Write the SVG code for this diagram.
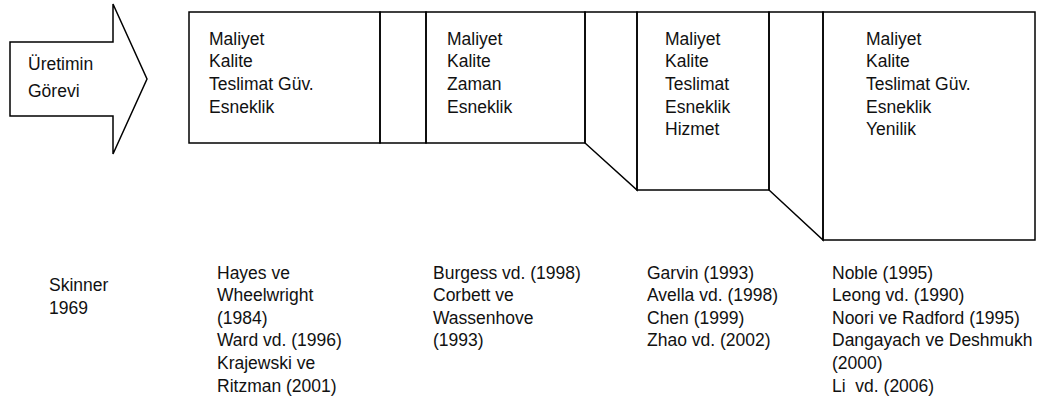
<svg xmlns="http://www.w3.org/2000/svg" width="1047" height="416" viewBox="0 0 1047 416">
<style>
.s{fill:#fff;stroke:#000;stroke-width:1.5;stroke-linejoin:miter}
.c{fill:none;stroke:#000;stroke-width:1.5}
text{font-family:"Liberation Sans",Arial,sans-serif;font-size:17.5px;fill:#111;white-space:pre}
</style>
<rect width="1047" height="416" fill="#fff"/>
<g id="arrow">
<polygon class="s" points="10,42 113,42 113,4 147,79 113,154 113,116 10,116"/>
<text x="28" y="70">Üretimin</text>
<text x="28" y="97">Görevi</text>
</g>
<g id="connectors">
<polygon class="c" points="380,12 426,12 426,143 380,143"/>
<polygon class="c" points="585,12 637,12 637,190 585,143"/>
<polygon class="c" points="769,12 823,12 823,240 769,190"/>
</g>
<g id="box1">
<rect class="c" x="189" y="12" width="191" height="131"/>
<text x="209" y="44.5">Maliyet</text>
<text x="209" y="67.2">Kalite</text>
<text x="209" y="89.9">Teslimat Güv.</text>
<text x="209" y="112.6">Esneklik</text>
</g>
<g id="box2">
<rect class="c" x="426" y="12" width="159" height="131"/>
<text x="447" y="44.5">Maliyet</text>
<text x="447" y="67.2">Kalite</text>
<text x="447" y="89.9">Zaman</text>
<text x="447" y="112.6">Esneklik</text>
</g>
<g id="box3">
<rect class="c" x="637" y="12" width="132" height="178"/>
<text x="665" y="44.5">Maliyet</text>
<text x="665" y="67.2">Kalite</text>
<text x="665" y="89.9">Teslimat</text>
<text x="665" y="112.6">Esneklik</text>
<text x="665" y="135.3">Hizmet</text>
</g>
<g id="box4">
<rect class="c" x="823" y="12" width="212" height="228"/>
<text x="866" y="44.5">Maliyet</text>
<text x="866" y="67.2">Kalite</text>
<text x="866" y="89.9">Teslimat Güv.</text>
<text x="866" y="112.6">Esneklik</text>
<text x="866" y="135.3">Yenilik</text>
</g>
<g id="ref0">
<text x="49" y="291">Skinner</text>
<text x="49" y="314">1969</text>
</g>
<g id="ref1">
<text x="217" y="278.5">Hayes ve</text>
<text x="217" y="301.1">Wheelwright</text>
<text x="217" y="323.7">(1984)</text>
<text x="217" y="346.3">Ward vd. (1996)</text>
<text x="217" y="368.9">Krajewski ve</text>
<text x="217" y="391.5">Ritzman (2001)</text>
</g>
<g id="ref2">
<text x="433" y="278.5">Burgess vd. (1998)</text>
<text x="433" y="301.1">Corbett ve</text>
<text x="433" y="323.7">Wassenhove</text>
<text x="433" y="346.3">(1993)</text>
</g>
<g id="ref3">
<text x="647" y="278.5">Garvin (1993)</text>
<text x="647" y="301.1">Avella vd. (1998)</text>
<text x="647" y="323.7">Chen (1999)</text>
<text x="647" y="346.3">Zhao vd. (2002)</text>
</g>
<g id="ref4">
<text x="832" y="278.5">Noble (1995)</text>
<text x="832" y="301.1">Leong vd. (1990)</text>
<text x="832" y="323.7">Noori ve Radford (1995)</text>
<text x="832" y="346.3">Dangayach ve Deshmukh</text>
<text x="832" y="368.9">(2000)</text>
<text x="832" y="391.5">Li  vd. (2006)</text>
</g>
</svg>
